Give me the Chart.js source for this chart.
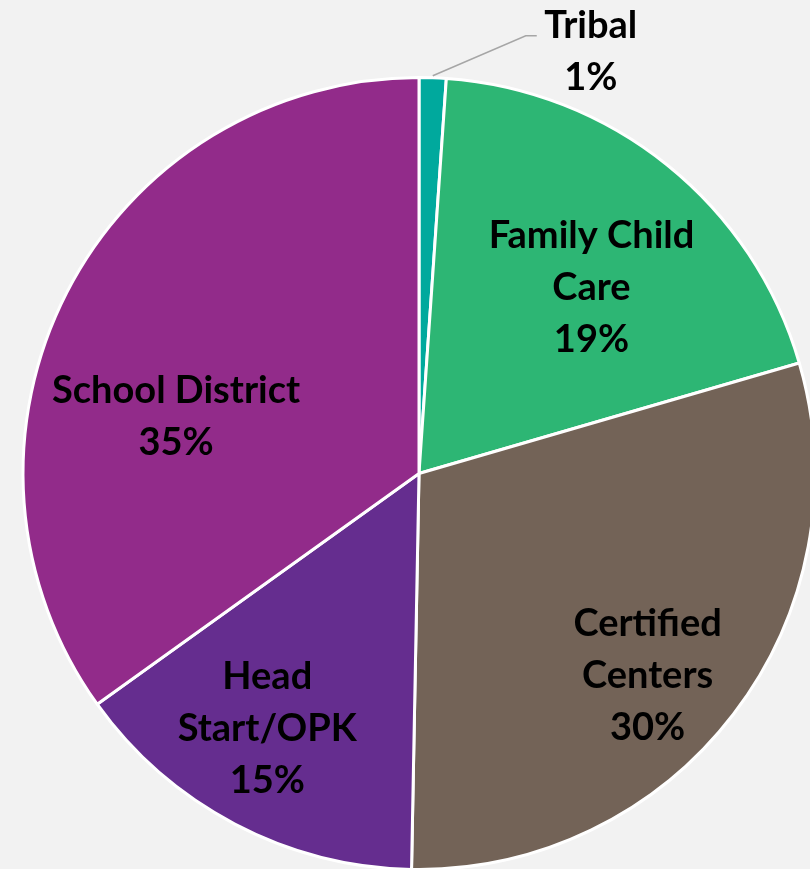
<!DOCTYPE html>
<html>
<head>
<meta charset="utf-8">
<script src="https://cdn.jsdelivr.net/npm/chart.js@4/dist/chart.umd.min.js"></script>
<style>
  html, body { margin: 0; padding: 0; background: #F2F2F2; }
  #wrap { width: 810px; height: 869px; position: relative; }
</style>
</head>
<body>
<div id="wrap"><canvas id="pie"></canvas></div>
<script>
// slices, clockwise from 12 o'clock
const categories = ['Tribal', 'Family Child Care', 'Certified Centers', 'Head Start/OPK', 'School District'];
const labelLines = [['Tribal'], ['Family Child', 'Care'], ['Certified', 'Centers'], ['Head', 'Start/OPK'], ['School District']];
const shares = [1.1, 19.4, 29.8, 14.8, 34.9];
const colors = ['#00A99D', '#2DB674', '#736357', '#652D8F', '#922B8A'];

// label placement: fraction of radius + angle shift (deg) from slice middle
const labelPos = [null, { r: 0.64, da: 4 }, { r: 0.77, da: 4 }, { r: 0.75, da: 3 }, { r: 0.63, da: -14 }];

const FONT = 'bold 38px Lato';
const LINE_H = 52;

const sliceLabels = {
  id: 'sliceLabels',
  afterDatasetsDraw(chart) {
    const ctx = chart.ctx;
    const meta = chart.getDatasetMeta(0);
    ctx.save();
    ctx.font = FONT;
    ctx.fillStyle = '#000';
    ctx.textAlign = 'center';
    ctx.textBaseline = 'middle';
    meta.data.forEach((arc, i) => {
      const { x, y, startAngle, endAngle, outerRadius } = arc.getProps(['x', 'y', 'startAngle', 'endAngle', 'outerRadius'], true);
      const lines = labelLines[i].concat([Math.round(shares[i]) + '%']);
      const mid = (startAngle + endAngle) / 2;
      let cx, cy;
      if (!labelPos[i]) {
        // small slice: label outside with leader line
        const ex = x + Math.cos(mid) * (outerRadius + 2);
        const ey = y + Math.sin(mid) * (outerRadius + 2);
        ctx.strokeStyle = '#A6A6A6';
        ctx.lineWidth = 1.5;
        ctx.beginPath();
        ctx.moveTo(ex, ey);
        ctx.lineTo(ex + 93, ey - 40);
        ctx.lineTo(ex + 104, ey - 40);
        ctx.stroke();
        cx = ex + 158;
        cy = ey - 24;
      } else {
        const a = mid + labelPos[i].da * Math.PI / 180;
        cx = x + Math.cos(a) * outerRadius * labelPos[i].r;
        cy = y + Math.sin(a) * outerRadius * labelPos[i].r;
      }
      const top = cy - (lines.length - 1) * LINE_H / 2;
      lines.forEach((t, k) => ctx.fillText(t, cx, top + k * LINE_H));
    });
    ctx.restore();
  }
};

new Chart(document.getElementById('pie'), {
  type: 'pie',
  data: {
    labels: categories,
    datasets: [{
      data: shares,
      backgroundColor: colors,
      borderColor: '#FFFFFF',
      borderWidth: 3,
      radius: 396,
    }],
  },
  options: {
    responsive: true,
    maintainAspectRatio: false,
    animation: false,
    layout: { padding: { left: 28, right: 0, top: 78, bottom: 0 } },
    plugins: {
      legend: { display: false },
      tooltip: { enabled: false },
    },
  },
  plugins: [sliceLabels],
});
</script>
</body>
</html>
